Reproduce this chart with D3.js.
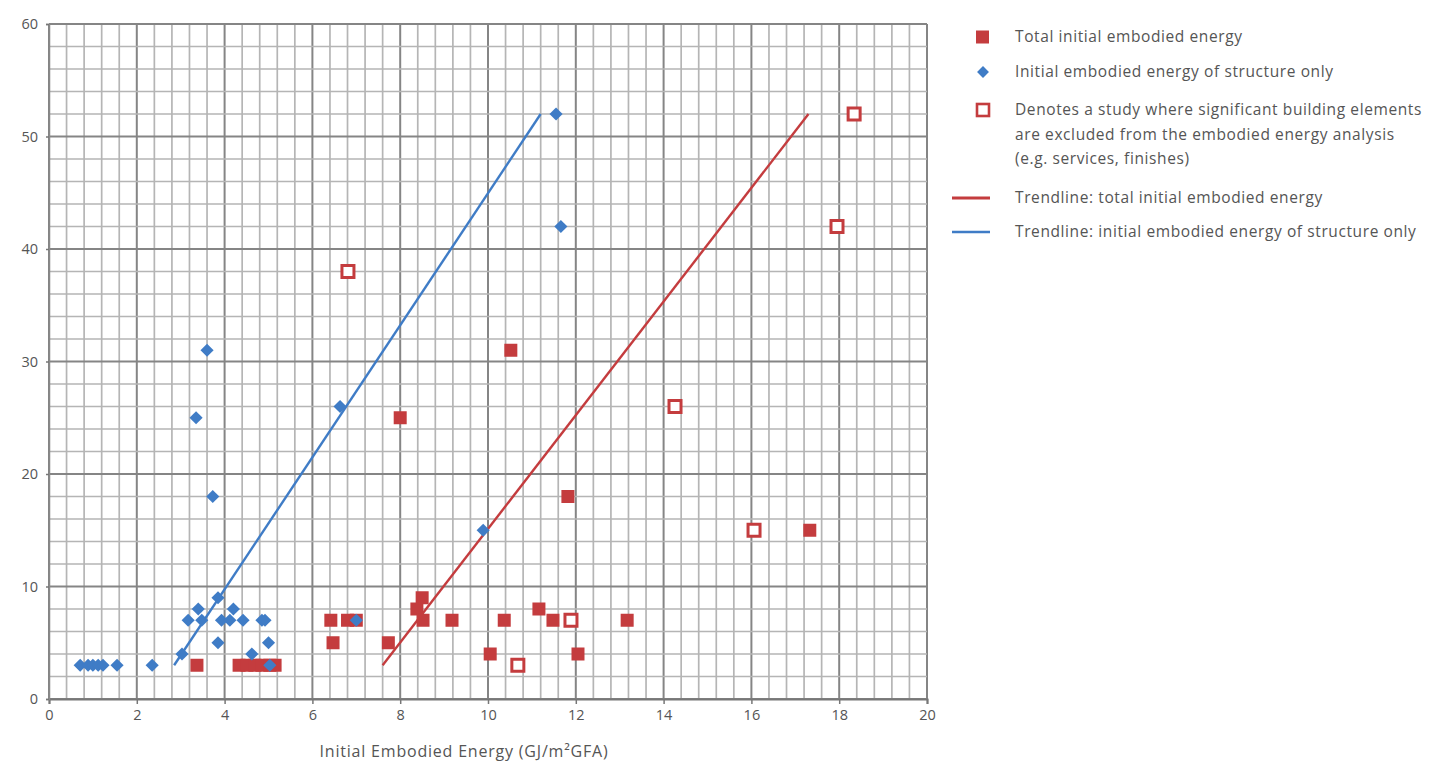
<!DOCTYPE html>
<html>
<head>
<meta charset="utf-8">
<script src="https://cdn.jsdelivr.net/npm/d3@7"></script>
<style>
  body { margin: 0; background: #fff; }
  svg { display: block; }
  text { font-family: "Open Sans", "Noto Sans", sans-serif; }
</style>
</head>
<body>
<svg id="chart" width="1437" height="764"></svg>
<script>
// ---- Data ----
const xTicks = [0, 2, 4, 6, 8, 10, 12, 14, 16, 18, 20];
const yTicks = [0, 10, 20, 30, 40, 50, 60];
const xTitle = "Initial Embodied Energy (GJ/m²GFA)";

// Total initial embodied energy (filled red squares): [x, y]
const totalX = [3.37, 4.33, 4.51, 4.69, 4.85, 5.03, 5.15, 6.42, 6.47, 6.8, 7.0, 7.73, 8.38, 8.5, 8.52, 9.18, 8.0, 10.52, 10.05, 10.37, 11.16, 11.48, 12.05, 13.17, 11.82, 17.33];
const totalY = [3, 3, 3, 3, 3, 3, 3, 7, 5, 7, 7, 5, 8, 9, 7, 7, 25, 31, 4, 7, 8, 7, 4, 7, 18, 15];

// Structure only (blue diamonds)
const structX = [0.71, 0.89, 1.0, 1.12, 1.23, 1.55, 2.35, 3.03, 3.17, 3.4, 3.48, 3.85, 3.85, 3.93, 4.12, 4.2, 4.42, 4.62, 4.85, 4.92, 5.0, 5.03, 7.0, 3.35, 3.6, 3.73, 6.63, 9.89, 11.55, 11.66];
const structY = [3, 3, 3, 3, 3, 3, 3, 4, 7, 8, 7, 9, 5, 7, 7, 8, 7, 4, 7, 7, 5, 3, 7, 25, 31, 18, 26, 15, 52, 42];

// Studies with significant elements excluded (hollow red squares)
const excludedX = [6.81, 10.68, 11.89, 14.26, 16.06, 17.95, 18.34];
const excludedY = [38, 3, 7, 26, 15, 42, 52];

// Trendlines: endpoints [x0, x1], [y0, y1]
const trendTotalX = [7.6, 17.3];
const trendTotalY = [3, 52];
const trendStructX = [2.85, 11.2];
const trendStructY = [3, 52];

const legendLabels = [
  ["Total initial embodied energy"],
  ["Initial embodied energy of structure only"],
  ["Denotes a study where significant building elements", "are excluded from the embodied energy analysis", "(e.g. services, finishes)"],
  ["Trendline: total initial embodied energy"],
  ["Trendline: initial embodied energy of structure only"]
];

// ---- Drawing ----
const RED = "#c43c3e";
const BLUE = "#3f7cc6";
const svg = d3.select("#chart");

const x = d3.scaleLinear().domain([0, 20]).range([49, 927]);
const y = d3.scaleLinear().domain([0, 60]).range([699, 24]);

const isMajorX = d => Math.abs(d / 2 - Math.round(d / 2)) < 1e-6;
const grid = svg.append("g");
const minorX = d3.range(0, 20.0001, 0.4).map(v => +v.toFixed(2));
const minorY = d3.range(0, 60.0001, 2);
grid.selectAll("line.vx").data(minorX).join("line")
  .attr("x1", d => x(d)).attr("x2", d => x(d))
  .attr("y1", y(60)).attr("y2", y(0))
  .attr("stroke", d => isMajorX(d) ? "#858585" : "#b5b5b5")
  .attr("stroke-width", d => isMajorX(d) ? 2 : 1.7);
grid.selectAll("line.hy").data(minorY).join("line")
  .attr("x1", x(0)).attr("x2", x(20))
  .attr("y1", d => y(d)).attr("y2", d => y(d))
  .attr("stroke", d => d % 10 === 0 ? "#858585" : "#b5b5b5")
  .attr("stroke-width", d => d % 10 === 0 ? 2 : 1.7);

// axes
const xAxis = d3.axisBottom(x).tickValues(xTicks).tickSize(5).tickPadding(6);
const gx = svg.append("g").attr("transform", `translate(0,${y(0)})`).call(xAxis);
gx.select(".domain").attr("stroke", "#777").attr("stroke-width", 2);
gx.selectAll(".tick line").attr("stroke", "#777").attr("stroke-width", 1.5);
gx.selectAll(".tick text").attr("fill", "#555").attr("font-size", 14.5);

const yAxis = d3.axisLeft(y).tickValues(yTicks).tickSize(3).tickPadding(8);
const gy = svg.append("g").attr("transform", `translate(${x(0)},0)`).call(yAxis);
gy.select(".domain").attr("stroke", "#888").attr("stroke-width", 1.5);
gy.selectAll(".tick line").attr("stroke", "#777").attr("stroke-width", 1.5);
gy.selectAll(".tick text").attr("fill", "#555").attr("font-size", 14.5);

svg.append("text").attr("x", 464).attr("y", 757).attr("text-anchor", "middle")
  .attr("fill", "#555").attr("font-size", 16).attr("letter-spacing", 0.8).text(xTitle);

// trendlines
const line = d3.line().x(d => x(d[0])).y(d => y(d[1]));
svg.append("path").datum(d3.zip(trendStructX, trendStructY)).attr("d", line)
  .attr("stroke", BLUE).attr("stroke-width", 2.4).attr("fill", "none");
svg.append("path").datum(d3.zip(trendTotalX, trendTotalY)).attr("d", line)
  .attr("stroke", RED).attr("stroke-width", 2.4).attr("fill", "none");

// filled red squares
const sq = 13;
svg.append("g").selectAll("rect").data(d3.zip(totalX, totalY)).join("rect")
  .attr("x", d => x(d[0]) - sq / 2).attr("y", d => y(d[1]) - sq / 2)
  .attr("width", sq).attr("height", sq).attr("fill", RED);

// hollow red squares
const hs = 12;
svg.append("g").selectAll("rect").data(d3.zip(excludedX, excludedY)).join("rect")
  .attr("x", d => x(d[0]) - hs / 2).attr("y", d => y(d[1]) - hs / 2)
  .attr("width", hs).attr("height", hs).attr("fill", "#fff")
  .attr("stroke", RED).attr("stroke-width", 3);

// blue diamonds
const diamond = d3.symbol().type(d3.symbolDiamond2).size(110);
svg.append("g").selectAll("path").data(d3.zip(structX, structY)).join("path")
  .attr("d", diamond)
  .attr("transform", d => `translate(${x(d[0])},${y(d[1])})`)
  .attr("fill", BLUE);

// legend
const lg = svg.append("g");
const rowY = [37, 72, 110, 198, 232];
const lineH = 24.5;
legendLabels.forEach((lines, i) => {
  lines.forEach((t, j) => {
    lg.append("text").attr("x", 1015).attr("y", rowY[i] + j * lineH).attr("dy", "0.35em")
      .attr("font-size", 15.5).attr("letter-spacing", 0.6)
      .attr("fill", "#555").text(t);
  });
});
lg.append("rect").attr("x", 976).attr("y", rowY[0] - 6.5).attr("width", 13).attr("height", 13).attr("fill", RED);
lg.append("path").attr("d", d3.symbol().type(d3.symbolDiamond2).size(90)).attr("transform", `translate(983,${rowY[1]})`).attr("fill", BLUE);
lg.append("rect").attr("x", 977).attr("y", rowY[2] - 6).attr("width", 12).attr("height", 12)
  .attr("fill", "#fff").attr("stroke", RED).attr("stroke-width", 2.6);
lg.append("line").attr("x1", 952).attr("x2", 990).attr("y1", rowY[3]).attr("y2", rowY[3]).attr("stroke", RED).attr("stroke-width", 3.2);
lg.append("line").attr("x1", 952).attr("x2", 990).attr("y1", rowY[4]).attr("y2", rowY[4]).attr("stroke", BLUE).attr("stroke-width", 2.4);
</script>
</body>
</html>
